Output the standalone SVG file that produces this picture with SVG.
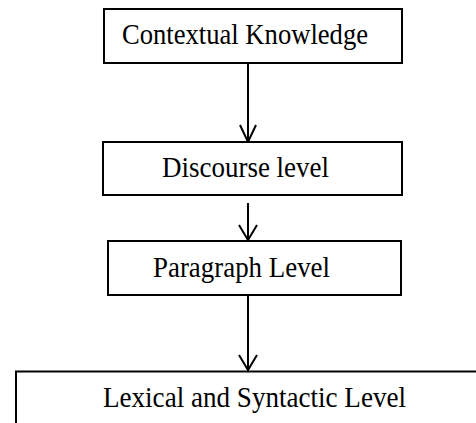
<svg xmlns="http://www.w3.org/2000/svg" width="476" height="423" viewBox="0 0 476 423">
<style>
.box{fill:#fff;stroke:#000;stroke-width:2}
.lbl{font-family:"Liberation Serif","Times New Roman",serif;font-size:28.5px;fill:#000;text-anchor:middle}
.con{fill:none;stroke:#000;stroke-width:2}
</style>
<rect width="476" height="423" fill="#fff"/>
<g id="connectors">
<path class="con" d="M248 63V142M240 125L248 142L256 125"/>
<path class="con" d="M248 203V240M239 225L248 240L257 225"/>
<path class="con" d="M248 295V370M239 355L248 370L257 355"/>
</g>
<g id="contextual">
<rect class="box" x="104" y="9" width="298" height="54"/>
<text class="lbl" x="245" y="44" textLength="246" lengthAdjust="spacingAndGlyphs">Contextual Knowledge</text>
</g>
<g id="discourse">
<rect class="box" x="103" y="142" width="299" height="53"/>
<text class="lbl" x="245.5" y="177" textLength="167" lengthAdjust="spacingAndGlyphs">Discourse level</text>
</g>
<g id="paragraph">
<rect class="box" x="108" y="241" width="293" height="54"/>
<text class="lbl" x="241.5" y="277" textLength="177" lengthAdjust="spacingAndGlyphs">Paragraph Level</text>
</g>
<g id="lexical">
<rect class="box" x="16" y="371.5" width="480" height="80"/>
<text class="lbl" x="254.5" y="407" textLength="303" lengthAdjust="spacingAndGlyphs">Lexical and Syntactic Level</text>
</g>
</svg>
